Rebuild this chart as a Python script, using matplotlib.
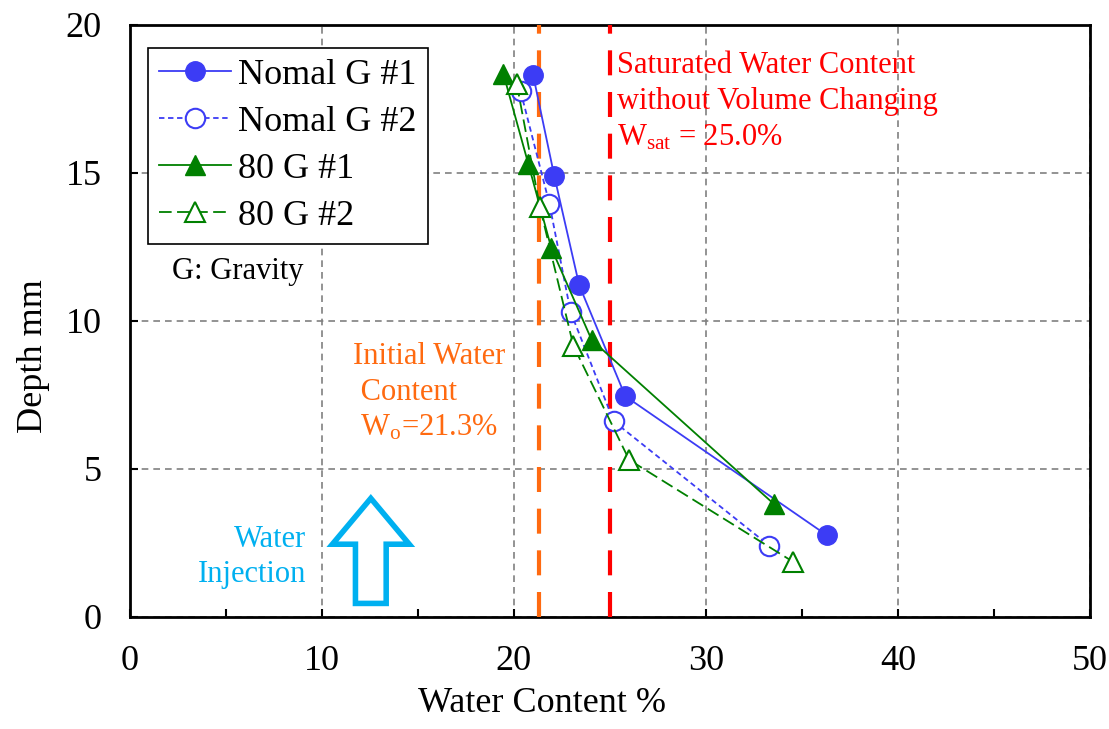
import matplotlib
matplotlib.use("Agg")
import matplotlib.pyplot as plt
from matplotlib.patches import Polygon
from matplotlib.ticker import MultipleLocator

plt.rcParams['font.family'] = ['Liberation Serif', 'DejaVu Serif']
plt.rcParams['mathtext.fontset'] = 'custom'
plt.rcParams['mathtext.rm'] = 'Liberation Serif'
plt.rcParams['mathtext.it'] = 'Liberation Serif:italic'

# data
n1_x = [21.0, 22.1, 23.4, 25.8, 36.3]
n1_y = [18.3, 14.9, 11.2, 7.45, 2.75]
n2_x = [20.35, 21.85, 22.95, 25.2, 33.3]
n2_y = [17.75, 13.95, 10.3, 6.6, 2.4]
g1_x = [19.45, 20.75, 21.95, 24.05, 33.55]
g1_y = [18.35, 15.3, 12.45, 9.35, 3.8]
g2_x = [20.15, 21.35, 23.1, 26.0, 34.55]
g2_y = [18.0, 13.85, 9.15, 5.3, 1.85]
labels = ['Nomal G #1', 'Nomal G #2', '80 G #1', '80 G #2']
w_init = 21.3
w_sat = 25.0

blue = '#3c3cf5'
green = '#008000'
orange = '#ff6a10'
red = '#ff0000'
cyan = '#00b0f0'

fig = plt.figure(figsize=(11.09, 7.29), dpi=100)
ax = fig.add_axes([0.117, 0.154, 0.866, 0.812])

ax.plot(n1_x, n1_y, '-', color=blue, lw=1.3, marker='o', ms=14, mfc=blue, mec=blue, label=labels[0], zorder=5)
ax.plot(n2_x, n2_y, color=blue, lw=1.3, ls=(0, (3, 2)), marker='o', ms=14, mfc='white', mec=blue, mew=1.5, label=labels[1], zorder=5)
ax.plot(g1_x, g1_y, '-', color=green, lw=1.3, marker='^', ms=15, mfc=green, mec=green, label=labels[2], zorder=5)
ax.plot(g2_x, g2_y, color=green, lw=1.3, ls=(0, (7, 3)), marker='^', ms=15, mfc='white', mec=green, mew=1.5, label=labels[3], zorder=5)

ax.axvline(w_init, color=orange, lw=3, ls=(0, (6, 4)), zorder=3)
ax.axvline(w_sat, color=red, lw=3, ls=(0, (6, 4)), zorder=3)

ax.set_xlim(0, 50)
ax.set_ylim(0, 20)
ax.xaxis.set_major_locator(MultipleLocator(10))
ax.xaxis.set_minor_locator(MultipleLocator(5))
ax.yaxis.set_major_locator(MultipleLocator(5))
ax.tick_params(which='both', direction='in', labelsize=26, width=1.5, top=False, right=False)
ax.tick_params(which='major', length=6, pad=20)
ax.tick_params(which='minor', length=6)
ax.grid(True, which='major', color='#808080', ls=(0, (4, 3)), lw=1.2)
for s in ax.spines.values():
    s.set_linewidth(2)
ax.set_xlabel('Water Content %', fontsize=26)
ax.set_ylabel('Depth mm', fontsize=26)
ax.xaxis.set_label_coords(0.429, -0.118)
ax.yaxis.set_label_coords(-0.083, 0.441)

leg = ax.legend(loc='upper left', bbox_to_anchor=(0.019, 0.961), fontsize=26, frameon=True, fancybox=False,
                edgecolor='black', framealpha=1, handlelength=2.0, handletextpad=0.2, borderpad=0.3,
                labelspacing=0.38, borderaxespad=0)
leg.get_frame().set_linewidth(1.2)

ax.text(2.19, 11.66, 'G: Gravity', fontsize=22, va='center', ha='left')

ax.text(25.36, 17.4, 'Saturated Water Content\nwithout Volume Changing\nW$_{\\mathrm{sat}}$ = 25.0%', color=red,
        fontsize=22, va='center', ha='left', linespacing=1.32)
ax.text(11.6, 7.58, 'Initial Water\n Content\n W$_{\\mathrm{o}}$=21.3%', color=orange, fontsize=22,
        va='center', ha='left', linespacing=1.3)
ax.text(9.17, 2.03, 'Water\nInjection', color=cyan, fontsize=22, va='center', ha='right', linespacing=1.28)

# hollow arrow
cx = 12.55
arrow = Polygon([(cx - 0.8, 0.45), (cx + 0.8, 0.45), (cx + 0.8, 2.45), (cx + 2.0, 2.45),
                 (cx, 4.0), (cx - 2.0, 2.45), (cx - 0.8, 2.45)], closed=True,
                fill=False, edgecolor=cyan, lw=4, joinstyle='miter', zorder=4)
ax.add_patch(arrow)

fig.savefig('out.png', dpi=100)
